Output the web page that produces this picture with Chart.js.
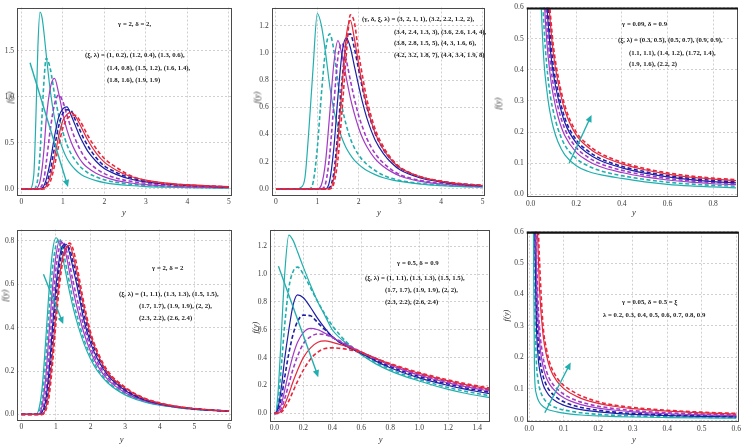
<!DOCTYPE html>
<html><head><meta charset="utf-8">
<script src="https://cdn.jsdelivr.net/npm/chart.js@4/dist/chart.umd.min.js"></script>
<style>
html,body{margin:0;padding:0;background:#fff}
body{width:744px;height:445px;position:relative;overflow:hidden;font-family:"Liberation Serif",serif}
canvas{position:absolute}
.t{position:absolute;font-weight:bold;font-size:6.8px;font-family:"Liberation Serif",serif;white-space:nowrap;color:#222;line-height:7px}
.ax{position:absolute;font-style:italic;font-size:8.5px;font-family:"Liberation Serif",serif;color:#333;white-space:nowrap;line-height:9px}
</style></head><body>
<script>
// ---------------- DATA ----------------
const COLORS = {cyan:'#22aeae', mag:'#a23ac6', blue:'#1e1ea6', red:'#e6283c'};

// Panel 1 : gamma=2, delta=2
const p1X = [0,0.2,0.3,0.35,0.4,0.45,0.5,0.55,0.6,0.7,0.8,0.9,1.0,1.1,1.2,1.3,1.4,1.5,1.6,1.8,2.0,2.3,2.6,3.0,3.5,4.0,4.5,5.0];
const p1Labels = ['(1, 0.2)','(1.2, 0.4)','(1.3, 0.6)','(1.4, 0.8)','(1.5, 1.2)','(1.6, 1.4)','(1.8, 1.6)','(1.9, 1.9)'];
const p1Y = [
 [0,0,0.15,0.75,1.55,1.92,1.86,1.68,1.46,1.06,0.77,0.57,0.43,0.33,0.26,0.21,0.17,0.14,0.12,0.09,0.068,0.048,0.036,0.025,0.017,0.012,0.009,0.007],
 [0,0,0,0.02,0.12,0.38,0.8,1.2,1.42,1.3,1.03,0.8,0.62,0.48,0.38,0.31,0.25,0.21,0.175,0.13,0.098,0.07,0.052,0.037,0.026,0.019,0.014,0.011],
 [0,0,0,0,0.02,0.08,0.22,0.45,0.75,1.1,1.2,1.04,0.82,0.64,0.51,0.41,0.33,0.27,0.23,0.17,0.13,0.09,0.066,0.046,0.031,0.022,0.016,0.012],
 [0,0,0,0,0,0.01,0.04,0.12,0.28,0.65,0.92,1.02,0.95,0.8,0.66,0.54,0.44,0.36,0.3,0.22,0.165,0.115,0.085,0.06,0.042,0.03,0.022,0.017],
 [0,0,0,0,0,0,0.01,0.04,0.1,0.3,0.57,0.78,0.87,0.89,0.8,0.69,0.58,0.49,0.41,0.3,0.22,0.155,0.11,0.075,0.05,0.036,0.027,0.02],
 [0,0,0,0,0,0,0,0.02,0.05,0.2,0.45,0.68,0.82,0.86,0.85,0.75,0.65,0.55,0.47,0.34,0.25,0.175,0.125,0.085,0.057,0.04,0.03,0.022],
 [0,0,0,0,0,0,0,0.01,0.03,0.13,0.34,0.57,0.74,0.81,0.83,0.79,0.71,0.62,0.53,0.39,0.29,0.2,0.14,0.095,0.063,0.045,0.033,0.025],
 [0,0,0,0,0,0,0,0,0.015,0.08,0.25,0.47,0.66,0.76,0.79,0.8,0.75,0.67,0.58,0.44,0.33,0.23,0.15,0.09,0.055,0.038,0.028,0.02]
];
const p1XTicks = [0,1,2,3,4,5];
const p1YTicks = [0,0.5,1.0,1.5];

// Panel 2 : (gamma, delta, xi, lambda)
const p2X = [0,0.5,0.6,0.7,0.8,0.9,1.0,1.1,1.2,1.3,1.4,1.5,1.6,1.7,1.8,1.9,2.0,2.1,2.2,2.4,2.6,2.8,3.0,3.5,4.0,4.5,5.0];
const p2Labels = ['(3, 2, 1, 1)','(3.2, 2.2, 1.2, 2)','(3.4, 2.4, 1.3, 3)','(3.6, 2.6, 1.4, 4)','(3.8, 2.8, 1.5, 5)','(4, 3, 1.6, 6)','(4.2, 3.2, 1.8, 7)','(4.4, 3.4, 1.9, 8)'];
const p2Y = [
 [0,0,0.01,0.08,0.45,0.9,1.29,1.2,1.0,0.76,0.58,0.46,0.37,0.3,0.25,0.21,0.18,0.155,0.135,0.105,0.082,0.066,0.055,0.035,0.024,0.017,0.013],
 [0,0,0,0,0,0.05,0.3,0.7,1.02,1.14,1.02,0.78,0.6,0.47,0.37,0.3,0.25,0.21,0.18,0.135,0.1,0.078,0.062,0.04,0.027,0.019,0.014],
 [0,0,0,0,0,0,0,0.03,0.2,0.55,0.92,1.09,0.98,0.82,0.67,0.55,0.45,0.37,0.31,0.22,0.165,0.125,0.095,0.055,0.036,0.025,0.018],
 [0,0,0,0,0,0,0,0,0.04,0.25,0.62,0.97,1.07,0.95,0.8,0.66,0.54,0.45,0.37,0.26,0.19,0.14,0.105,0.062,0.04,0.027,0.019],
 [0,0,0,0,0,0,0,0,0,0.06,0.3,0.68,1.0,1.11,1.04,0.9,0.76,0.63,0.52,0.36,0.26,0.19,0.14,0.08,0.05,0.033,0.023],
 [0,0,0,0,0,0,0,0,0,0.01,0.12,0.42,0.8,1.08,1.14,1.03,0.88,0.73,0.6,0.41,0.29,0.21,0.155,0.088,0.055,0.036,0.025],
 [0,0,0,0,0,0,0,0,0,0,0.08,0.35,0.75,1.12,1.24,1.1,0.92,0.75,0.61,0.41,0.29,0.21,0.155,0.088,0.055,0.036,0.025],
 [0,0,0,0,0,0,0,0,0,0,0.04,0.22,0.58,0.98,1.28,1.22,1.0,0.82,0.66,0.44,0.31,0.22,0.16,0.09,0.057,0.037,0.026]
];
const p2XTicks = [0,1,2,3,4,5];
const p2YTicks = [0,0.2,0.4,0.6,0.8,1.0,1.2];

// Panel 3 : gamma=0.09, delta=0.9
const p3X = [0.02,0.04,0.05,0.06,0.07,0.08,0.09,0.1,0.12,0.15,0.2,0.25,0.3,0.4,0.5,0.6,0.7,0.8,0.9];
const p3Labels = ['(0.3, 0.5)','(0.5, 0.7)','(0.9, 0.9)','(1.1, 1.1)','(1.4, 1.2)','(1.72, 1.4)','(1.9, 1.6)','(2.2, 2)'];
const p3Y = [
 [1.5,0.75,0.54,0.41,0.34,0.285,0.245,0.213,0.168,0.127,0.092,0.074,0.064,0.051,0.04,0.032,0.027,0.024,0.021],
 [1.9,0.95,0.68,0.52,0.42,0.35,0.3,0.265,0.21,0.158,0.115,0.092,0.077,0.06,0.048,0.039,0.033,0.029,0.026],
 [2.3,1.15,0.82,0.62,0.5,0.42,0.36,0.315,0.25,0.188,0.135,0.108,0.09,0.07,0.056,0.046,0.039,0.034,0.031],
 [2.6,1.3,0.92,0.7,0.56,0.47,0.4,0.35,0.28,0.21,0.15,0.12,0.1,0.077,0.062,0.051,0.043,0.038,0.034],
 [2.9,1.45,1.02,0.78,0.62,0.52,0.44,0.385,0.31,0.23,0.165,0.132,0.11,0.085,0.068,0.056,0.047,0.041,0.037],
 [3.1,1.55,1.1,0.84,0.67,0.56,0.475,0.41,0.33,0.245,0.175,0.14,0.117,0.09,0.073,0.06,0.051,0.045,0.04],
 [3.4,1.7,1.2,0.92,0.73,0.61,0.52,0.45,0.36,0.27,0.19,0.152,0.127,0.098,0.079,0.065,0.055,0.049,0.044],
 [3.6,1.8,1.28,0.97,0.77,0.64,0.55,0.475,0.38,0.285,0.2,0.16,0.134,0.103,0.083,0.069,0.059,0.052,0.047]
];
const p3XTicks = [0,0.2,0.4,0.6,0.8];
const p3YTicks = [0,0.1,0.2,0.3,0.4,0.5,0.6];

// Panel 4 : gamma=2, delta=2
const p4X = [0,0.4,0.5,0.6,0.7,0.8,0.9,1.0,1.1,1.2,1.3,1.4,1.5,1.6,1.8,2.0,2.2,2.5,3.0,3.5,4.0,4.5,5.0,5.5,6.0];
const p4Labels = ['(1, 1.1)','(1.3, 1.3)','(1.5, 1.5)','(1.7, 1.7)','(1.9, 1.9)','(2, 2)','(2.3, 2.2)','(2.6, 2.4)'];
const p4Y = [
 [0,0,0.02,0.12,0.33,0.57,0.75,0.815,0.79,0.72,0.64,0.56,0.49,0.43,0.33,0.255,0.2,0.145,0.09,0.06,0.042,0.031,0.023,0.018,0.014],
 [0,0,0.01,0.07,0.24,0.47,0.67,0.78,0.81,0.76,0.68,0.6,0.52,0.46,0.35,0.27,0.21,0.15,0.095,0.063,0.044,0.032,0.024,0.019,0.015],
 [0,0,0,0.04,0.16,0.37,0.58,0.73,0.8,0.79,0.73,0.65,0.57,0.5,0.38,0.29,0.225,0.16,0.1,0.066,0.046,0.033,0.025,0.019,0.015],
 [0,0,0,0.02,0.1,0.28,0.49,0.67,0.77,0.795,0.76,0.69,0.61,0.54,0.41,0.31,0.24,0.17,0.105,0.068,0.047,0.034,0.025,0.019,0.015],
 [0,0,0,0.01,0.06,0.2,0.4,0.59,0.72,0.78,0.785,0.74,0.67,0.6,0.44,0.33,0.255,0.18,0.11,0.07,0.048,0.034,0.025,0.019,0.015],
 [0,0,0,0,0.04,0.15,0.34,0.53,0.68,0.76,0.78,0.76,0.7,0.63,0.47,0.35,0.27,0.19,0.115,0.073,0.05,0.035,0.026,0.02,0.015],
 [0,0,0,0,0.025,0.11,0.28,0.47,0.63,0.73,0.77,0.78,0.73,0.66,0.5,0.365,0.28,0.19,0.12,0.076,0.051,0.036,0.026,0.02,0.015],
 [0,0,0,0,0.015,0.08,0.23,0.42,0.59,0.71,0.77,0.79,0.76,0.69,0.52,0.38,0.29,0.2,0.125,0.079,0.053,0.037,0.027,0.02,0.015]
];
const p4XTicks = [0,1,2,3,4,5,6];
const p4YTicks = [0,0.2,0.4,0.6,0.8];

// Panel 5 : gamma=0.5, delta=0.9
const p5X = [0,0.01,0.02,0.03,0.05,0.07,0.1,0.13,0.16,0.2,0.25,0.3,0.35,0.4,0.5,0.6,0.7,0.8,0.9,1.0,1.1,1.2,1.3,1.4,1.5];
const p5Labels = ['(1, 1.1)','(1.3, 1.3)','(1.5, 1.5)','(1.7, 1.7)','(1.9, 1.9)','(2, 2)','(2.3, 2.2)','(2.6, 2.4)'];
const p5Y = [
 [0,0,0.08,0.22,0.6,0.98,1.28,1.24,1.16,1.05,0.92,0.8,0.7,0.6,0.5,0.42,0.355,0.305,0.265,0.232,0.2,0.172,0.148,0.128,0.11],
 [0,0,0.04,0.12,0.36,0.62,0.9,1.02,1.05,1.0,0.9,0.8,0.71,0.63,0.51,0.425,0.365,0.315,0.275,0.243,0.212,0.185,0.162,0.142,0.125],
 [0,0,0.02,0.06,0.2,0.38,0.6,0.78,0.85,0.83,0.76,0.68,0.61,0.55,0.48,0.43,0.375,0.327,0.288,0.255,0.226,0.2,0.177,0.157,0.14],
 [0,0,0.01,0.03,0.12,0.25,0.43,0.57,0.66,0.705,0.7,0.65,0.6,0.55,0.48,0.435,0.382,0.336,0.298,0.265,0.236,0.21,0.187,0.167,0.15],
 [0,0,0.005,0.02,0.07,0.16,0.3,0.42,0.51,0.58,0.61,0.6,0.575,0.545,0.49,0.44,0.39,0.345,0.307,0.274,0.245,0.219,0.196,0.176,0.158],
 [0,0,0,0.01,0.04,0.1,0.21,0.32,0.41,0.5,0.55,0.57,0.565,0.545,0.495,0.44,0.393,0.35,0.313,0.281,0.252,0.226,0.203,0.183,0.165],
 [0,0,0,0.005,0.02,0.06,0.14,0.23,0.31,0.4,0.47,0.51,0.52,0.51,0.48,0.44,0.395,0.354,0.318,0.287,0.258,0.233,0.21,0.19,0.172],
 [0,0,0,0,0.01,0.035,0.09,0.16,0.23,0.31,0.39,0.44,0.465,0.47,0.46,0.435,0.395,0.357,0.323,0.293,0.265,0.24,0.217,0.197,0.18]
];
const p5XTicks = [0,0.2,0.4,0.6,0.8,1.0,1.2,1.4];
const p5YTicks = [0,0.2,0.4,0.6,0.8,1.0,1.2];

// Panel 6 : gamma=0.05, delta=0.5=xi, lambda varies
const p6X = [0.005,0.01,0.0125,0.015,0.02,0.025,0.03,0.04,0.05,0.06,0.08,0.1,0.12,0.15,0.2,0.25,0.3,0.4,0.5,0.6];
const p6Labels = ['0.2','0.3','0.4','0.5','0.6','0.7','0.8','0.9'];
const p6Y = [
 [3.0,1.2,0.5,0.16,0.085,0.066,0.055,0.043,0.036,0.031,0.026,0.022,0.019,0.016,0.013,0.011,0.0095,0.0078,0.0066,0.0058],
 [3.4,1.5,0.85,0.45,0.2,0.13,0.1,0.072,0.057,0.048,0.038,0.032,0.028,0.023,0.018,0.015,0.013,0.0105,0.0088,0.0076],
 [3.8,1.8,1.1,0.7,0.33,0.21,0.16,0.113,0.09,0.075,0.057,0.047,0.04,0.033,0.026,0.021,0.018,0.014,0.0115,0.0098],
 [4.2,2.0,1.3,0.85,0.42,0.27,0.2,0.14,0.11,0.092,0.071,0.058,0.049,0.04,0.031,0.025,0.021,0.0165,0.0135,0.0115],
 [4.6,2.3,1.5,1.0,0.52,0.33,0.245,0.17,0.133,0.112,0.087,0.071,0.06,0.049,0.038,0.031,0.026,0.02,0.0165,0.014],
 [5.0,2.5,1.7,1.15,0.6,0.39,0.29,0.2,0.155,0.128,0.1,0.082,0.07,0.057,0.044,0.036,0.03,0.023,0.019,0.016],
 [5.4,2.7,1.85,1.3,0.75,0.56,0.41,0.27,0.205,0.165,0.124,0.1,0.085,0.069,0.053,0.043,0.036,0.028,0.023,0.019],
 [5.8,2.9,2.0,1.4,0.85,0.65,0.5,0.3,0.225,0.18,0.135,0.11,0.095,0.077,0.058,0.047,0.04,0.031,0.025,0.021]
];
const p6XTicks = [0,0.1,0.2,0.3,0.4,0.5,0.6];
const p6YTicks = [0,0.1,0.2,0.3,0.4,0.5,0.6];

// colour order of the 8 curves (solid, dashed pairs)
const orderA = ['cyan','cyan','mag','mag','blue','blue','red','red'];
const orderB = ['cyan','cyan','blue','blue','mag','mag','red','red'];

// annotation texts [text, left, centerY]
const notes = [
 ['γ = 2, δ = 2,',118,23],
 ['(ξ, λ) = (1, 0.2), (1.2, 0.4), (1.3, 0.6),',85,54],
 ['(1.4, 0.8), (1.5, 1.2), (1.6, 1.4),',107,67],
 ['(1.8, 1.6), (1.9, 1.9)',107,79],
 ['(γ, δ, ξ, λ) = (3, 2, 1, 1), (3.2, 2.2, 1.2, 2),',362,18],
 ['(3.4, 2.4, 1.3, 3), (3.6, 2.6, 1.4, 4),',394,31],
 ['(3.8, 2.8, 1.5, 5), (4, 3, 1.6, 6),',394,42],
 ['(4.2, 3.2, 1.8, 7), (4.4, 3.4, 1.9, 8)',394,54],
 ['γ = 0.09, δ = 0.9',622,23],
 ['(ξ, λ) = (0.3, 0.5), (0.5, 0.7), (0.9, 0.9),',618,39],
 ['(1.1, 1.1), (1.4, 1.2), (1.72, 1.4),',629,52],
 ['(1.9, 1.6), (2.2, 2)',629,63],
 ['γ = 2, δ = 2',152,267],
 ['(ξ, λ) = (1, 1.1), (1.3, 1.3), (1.5, 1.5),',119,293],
 ['(1.7, 1.7), (1.9, 1.9), (2, 2),',139,305],
 ['(2.3, 2.2), (2.6, 2.4)',139,317],
 ['γ = 0.5, δ = 0.9',397,262],
 ['(ξ, λ) = (1, 1.1), (1.3, 1.3), (1.5, 1.5),',365,277],
 ['(1.7, 1.7), (1.9, 1.9), (2, 2),',385,289],
 ['(2.3, 2.2), (2.6, 2.4)',385,301],
 ['γ = 0.05, δ = 0.5 = ξ',622,301],
 ['λ = 0.2, 0.3, 0.4, 0.5, 0.6, 0.7, 0.8, 0.9',603,314]
];

// ---------------- LAYOUT ----------------
const panels = [
 {X:p1X,Y:p1Y,L:p1Labels,xt:p1XTicks,yt:p1YTicks,xd:0,yd:1,cols:orderA,xmin:-0.104,xmax:5.077,ymin:-0.067,ymax:1.971,
  box:{cl:0,ct:0,cw:246,ch:222}, area:{L:17,T:2,R:232,B:195}, arrow:[0.21,1.37,1.125,0.02], fy:[10,97], yl:[125,213]},
 {X:p2X,Y:p2Y,L:p2Labels,xt:p2XTicks,yt:p2YTicks,xd:0,yd:1,cols:orderA,xmin:-0.104,xmax:5.06,ymin:-0.045,ymax:1.334,
  box:{cl:248,ct:0,cw:248,ch:222}, area:{L:271.7,T:2,R:485,B:195}, arrow:null, fy:[256.5,97], yl:[380,213]},
 {X:p3X,Y:p3Y,L:p3Labels,xt:p3XTicks,yt:p3YTicks,xd:1,yd:1,cols:orderA,xmin:-0.0172,xmax:0.9088,ymin:-0.0076,ymax:0.6,
  box:{cl:500,ct:0,cw:244,ch:222}, area:{L:526.7,T:6,R:738,B:196.7}, arrow:[0.169,0.1,0.267,0.255], thickTop:true, fy:[497.5,103], yl:[635,213]},
 {X:p4X,Y:p4Y,L:p4Labels,xt:p4XTicks,yt:p4YTicks,xd:0,yd:1,cols:orderA,xmin:-0.116,xmax:6.095,ymin:-0.026,ymax:0.853,
  box:{cl:0,ct:222,cw:246,ch:223}, area:{L:17.3,T:225,R:232.3,B:420}, arrow:[0.64,0.647,1.21,0.417], fy:[5,295], yl:[122.7,440]},
 {X:p5X,Y:p5Y,L:p5Labels,xt:p5XTicks,yt:p5YTicks,xd:1,yd:1,cols:orderB,xmin:-0.03,xmax:1.488,ymin:-0.055,ymax:1.32,
  box:{cl:248,ct:222,cw:248,ch:223}, area:{L:270,T:228,R:490,B:421}, arrow:[0.028,1.057,0.303,0.26], fy:[255,327], yl:[381.7,440]},
 {X:p6X,Y:p6Y,L:p6Labels,xt:p6XTicks,yt:p6YTicks,xd:1,yd:1,cols:orderB,xmin:-0.0075,xmax:0.607,ymin:-0.0054,ymax:0.6,
  box:{cl:500,ct:222,cw:244,ch:223}, area:{L:526.7,T:231.7,R:740,B:421.7}, arrow:[0.045,0.023,0.12,0.183], thickTop:true, fy:[506,315], yl:[635,440]}
];

const framePlugin = {
  id:'frame',
  afterDatasetsDraw(chart, args, o){
    const ctx = chart.ctx, a = chart.chartArea;
    ctx.save();
    if (o.arrow){
      const xs = chart.scales.x, ys = chart.scales.y;
      const x0 = xs.getPixelForValue(o.arrow[0]), y0 = ys.getPixelForValue(o.arrow[1]);
      const x1 = xs.getPixelForValue(o.arrow[2]), y1 = ys.getPixelForValue(o.arrow[3]);
      const ang = Math.atan2(y1-y0, x1-x0), hl = 7, hw = 3.2;
      ctx.strokeStyle = COLORS.cyan; ctx.fillStyle = COLORS.cyan; ctx.lineWidth = 1.4;
      ctx.beginPath(); ctx.moveTo(x0,y0); ctx.lineTo(x1 - Math.cos(ang)*hl*0.8, y1 - Math.sin(ang)*hl*0.8); ctx.stroke();
      ctx.beginPath(); ctx.moveTo(x1,y1);
      ctx.lineTo(x1 - Math.cos(ang)*hl - Math.sin(ang)*hw, y1 - Math.sin(ang)*hl + Math.cos(ang)*hw);
      ctx.lineTo(x1 - Math.cos(ang)*hl + Math.sin(ang)*hw, y1 - Math.sin(ang)*hl - Math.cos(ang)*hw);
      ctx.closePath(); ctx.fill();
    }
    ctx.strokeStyle = '#4a4a4a'; ctx.lineWidth = 1;
    ctx.strokeRect(Math.round(a.left)+0.5, Math.round(a.top)+0.5, Math.round(a.right-a.left)-1, Math.round(a.bottom-a.top)-1);
    if (o.thickTop){
      ctx.strokeStyle = '#111'; ctx.lineWidth = 2.2;
      ctx.beginPath(); ctx.moveTo(a.left, a.top+1); ctx.lineTo(a.right, a.top+1); ctx.stroke();
    }
    ctx.restore();
  }
};

panels.forEach(p => {
  const b = p.box, ar = p.area;
  const cv = document.createElement('canvas');
  cv.width = b.cw; cv.height = b.ch;
  cv.style.left = b.cl+'px'; cv.style.top = b.ct+'px';
  cv.style.width = b.cw+'px'; cv.style.height = b.ch+'px';
  document.body.appendChild(cv);
  const yW = ar.L - b.cl, xH = (b.ct + b.ch) - ar.B;
  const datasets = p.Y.map((ys, i) => {
    const dashed = i % 2 === 1;
    return {
      label: p.L[i],
      data: ys.map((v, k) => ({x: p.X[k], y: v})),
      borderColor: COLORS[p.cols[i]],
      borderWidth: dashed ? 1.6 : 1.2,
      borderDash: dashed ? [4, 2.5] : [],
      pointRadius: 0,
      fill: false,
      cubicInterpolationMode: 'monotone',
      order: 7 - i
    };
  });
  const tickFont = {family:'Liberation Serif', size:7.5};
  new Chart(cv.getContext('2d'), {
    type: 'line',
    data: {datasets},
    options: {
      responsive: false, animation: false, devicePixelRatio: 1,
      layout: {autoPadding: false, padding: {left: 0, top: ar.T - b.ct, right: (b.cl + b.cw) - ar.R, bottom: 0}},
      plugins: {legend: {display: false}, tooltip: {enabled: false}, frame: {arrow: p.arrow, thickTop: !!p.thickTop}},
      scales: {
        x: {type: 'linear', min: p.xmin, max: p.xmax,
            afterBuildTicks: s => { s.ticks = p.xt.map(v => ({value: v})); },
            afterFit: s => { s.height = xH; },
            ticks: {font: tickFont, color: '#3a3a3a', padding: 3, autoSkip: false, maxRotation: 0,
                    callback: v => Number(v).toFixed(p.xd)},
            grid: {color: '#c4c4c4', lineWidth: 0.8, drawTicks: false},
            border: {display: false, dash: [2, 2]}},
        y: {type: 'linear', min: p.ymin, max: p.ymax,
            afterBuildTicks: s => { s.ticks = p.yt.map(v => ({value: v})); },
            afterFit: s => { s.width = yW; },
            ticks: {font: tickFont, color: '#3a3a3a', padding: 3, autoSkip: false,
                    callback: v => Number(v).toFixed(p.yd)},
            grid: {color: '#c4c4c4', lineWidth: 0.8, drawTicks: false},
            border: {display: false, dash: [2, 2]}}
      }
    },
    plugins: [framePlugin]
  });
  // axis titles
  const fy = document.createElement('div');
  fy.className = 'ax'; fy.textContent = 'f(y)';
  fy.style.left = (p.fy[0] - 8) + 'px'; fy.style.top = (p.fy[1] - 4.5) + 'px';
  fy.style.width = '16px'; fy.style.textAlign = 'center';
  fy.style.transform = 'rotate(-90deg)';
  document.body.appendChild(fy);
  const yl = document.createElement('div');
  yl.className = 'ax'; yl.textContent = 'y';
  yl.style.left = (p.yl[0] - 3) + 'px'; yl.style.top = (p.yl[1] - 5) + 'px';
  document.body.appendChild(yl);
});

notes.forEach(n => {
  const d = document.createElement('div');
  d.className = 't'; d.textContent = n[0];
  d.style.left = n[1] + 'px'; d.style.top = (n[2] - 3.5) + 'px';
  document.body.appendChild(d);
});
</script>
</body></html>
